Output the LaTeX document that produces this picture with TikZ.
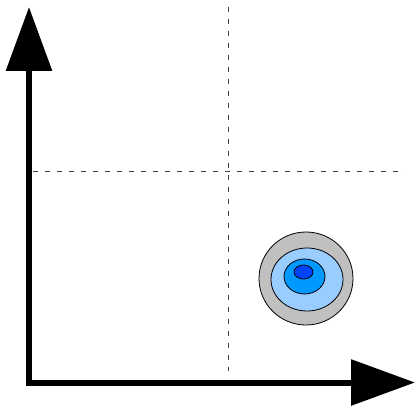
\documentclass[tikz,border=0pt]{standalone}
\usetikzlibrary{arrows.meta,shapes.geometric}
\definecolor{ringgray}{HTML}{C0C0C0}
\definecolor{ringlight}{HTML}{99CCFF}
\definecolor{ringmid}{HTML}{0099FF}
\definecolor{ringdark}{HTML}{0044FF}
\begin{document}
\begin{tikzpicture}[x=1pt,y=-1pt,
  axis/.style={line width=6pt, line join=miter, {Triangle[length=64pt,width=45pt]}-{Triangle[length=64pt,width=45pt]}},
  guide/.style={line width=0.8pt, dash pattern=on 5pt off 7pt, black!75},
  ring/.style={ellipse, draw=black, line width=0.8pt, inner sep=0pt}
]
\useasboundingbox (0,0) rectangle (415,406);
\coordinate (ytip) at (29,7);
\coordinate (corner) at (29,382.5);
\coordinate (xtip) at (415,382.5);
\coordinate (vtop) at (228.7,7);
\coordinate (vbot) at (228.7,371);
\coordinate (hleft) at (33,171.5);
\coordinate (hright) at (405,171.5);
\draw[guide] (vtop) -- (vbot);
\draw[guide] (hleft) -- (hright);
\draw[axis] (ytip) -- (corner) -- (xtip);
\node[ring, fill=ringgray, minimum width=94pt, minimum height=93pt] (r1) at (306,278.5) {};
\node[ring, fill=ringlight, minimum width=72pt, minimum height=63pt] (r2) at (307,279.5) {};
\node[ring, fill=ringmid, minimum width=41pt, minimum height=35pt] (r3) at (304.5,276.5) {};
\node[ring, fill=ringdark, minimum width=19pt, minimum height=14pt] (r4) at (303.5,272) {};
\end{tikzpicture}
\end{document}
